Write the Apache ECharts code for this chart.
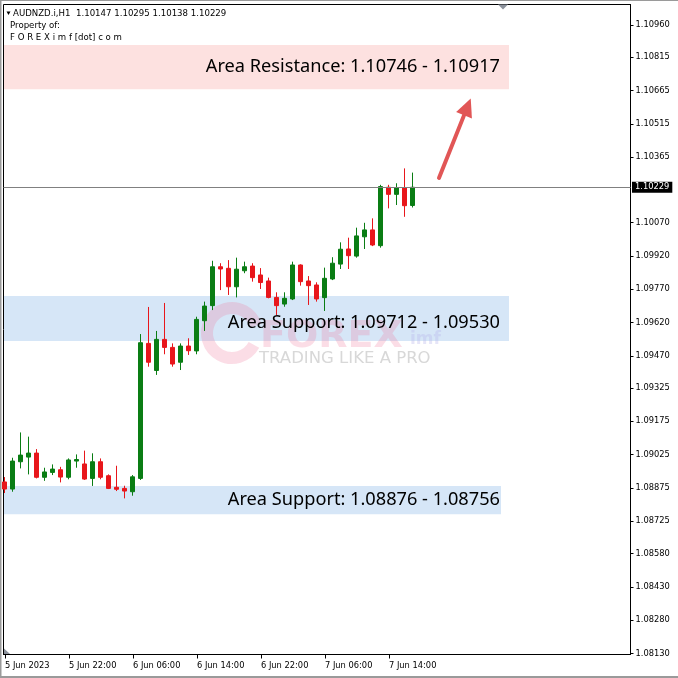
<!DOCTYPE html>
<html><head><meta charset="utf-8">
<script src="https://cdn.jsdelivr.net/npm/echarts@6/dist/echarts.min.js"></script>
<style>html,body{margin:0;padding:0;background:#fff}#c{width:678px;height:678px}</style>
</head><body><div id="c"></div>
<script>
// ---- data (AUDNZD.i, H1, bars from 5 Jun 2023 14:00) ----
const symbolName = 'AUDNZD.i,H1';
const opens = [1.08902,1.08870,1.08993,1.09014,1.09032,1.08923,1.08945,1.08957,1.08923,1.08996,
1.08983,1.08918,1.08993,1.08930,1.08878,1.08873,1.08858,1.08918,1.09526,1.09404,
1.09544,1.09508,1.09441,1.09514,1.09492,1.09628,1.09696,1.09871,1.09864,1.09781,
1.09853,1.09874,1.09834,1.09807,1.09733,1.09703,1.09726,1.09879,1.09807,1.09789,
1.09732,1.09816,1.09883,1.09951,1.09919,1.10006,1.10037,1.09966,1.10229,1.10197,
1.10227,1.10147];
const closes = [1.08870,1.08996,1.09023,1.09032,1.08923,1.08947,1.08960,1.08924,1.09001,1.09003,
1.08915,1.08993,1.08923,1.08873,1.08869,1.08861,1.08925,1.09529,1.09441,1.09544,
1.09508,1.09433,1.09514,1.09493,1.09634,1.09694,1.09871,1.09861,1.09781,1.09860,
1.09871,1.09822,1.09800,1.09733,1.09696,1.09729,1.09879,1.09804,1.09786,1.09726,
1.09819,1.09887,1.09950,1.09921,1.10010,1.10037,1.09969,1.10232,1.10197,1.10227,
1.10146,1.10229];
const highs = [1.08924,1.09011,1.09125,1.09106,1.09050,1.08966,1.08981,1.08970,1.09008,1.09026,
1.09043,1.09031,1.09008,1.08936,1.08975,1.08885,1.08933,1.09568,1.09690,1.09582,
1.09708,1.09526,1.09526,1.09549,1.09646,1.09714,1.09898,1.09887,1.09901,1.09912,
1.09894,1.09887,1.09865,1.09822,1.09756,1.09756,1.09894,1.09882,1.09829,1.09801,
1.09867,1.09914,1.09981,1.10002,1.10047,1.10069,1.10089,1.10240,1.10240,1.10247,
1.10314,1.10295];
const lows = [1.08852,1.08858,1.08963,1.08936,1.08918,1.08907,1.08933,1.08900,1.08914,1.08966,
1.08911,1.08884,1.08914,1.08870,1.08861,1.08828,1.08840,1.08911,1.09421,1.09384,
1.09477,1.09421,1.09406,1.09474,1.09477,1.09582,1.09676,1.09766,1.09744,1.09733,
1.09842,1.09804,1.09771,1.09729,1.09654,1.09691,1.09721,1.09786,1.09699,1.09714,
1.09672,1.09811,1.09861,1.09861,1.09912,1.09951,1.09964,1.09957,1.10134,1.10149,
1.10096,1.10138];

const xTickBars = [0, 8, 16, 24, 32, 40, 48];
const xTickLabels = ['5 Jun 2023','5 Jun 22:00','6 Jun 06:00','6 Jun 14:00','6 Jun 22:00','7 Jun 06:00','7 Jun 14:00'];
const yTickValues = [1.08130,1.08280,1.08430,1.08580,1.08725,1.08875,1.09025,1.09175,1.09325,1.09470,
1.09620,1.09770,1.09920,1.10070,1.10365,1.10515,1.10665,1.10815,1.10960];

const zoneNames = ['Area Resistance: 1.10746 - 1.10917','Area Support: 1.09712 - 1.09530','Area Support: 1.08876 - 1.08756'];
const zoneTop = [1.10870, 1.09739, 1.08884];
const zoneBottom = [1.10670, 1.09537, 1.08757];
const zoneEndBar = [63, 63, 62];
const zoneColors = ['#fde1e0', '#d6e6f7', '#d6e6f7'];

const lastPrice = 1.10229;
const arrowFrom = [54.25, 1.10271];
const arrowTo = [57.8, 1.10591];

// ---- styling ----
const GREEN = '#0a7d14', RED = '#e8161b';
const xMin = -0.1875, xMax = 78.19, yMin = 1.08125, yMax = 1.11052;
const zoneStartX = -0.125;
const axisFont = {fontFamily: 'DejaVu Sans', fontSize: 8.3, color: '#000'};

const candleData = opens.map((o, i) => [i, o, closes[i], lows[i], highs[i]]);
const n = opens.length - 1;

const chart = echarts.init(document.getElementById('c'), null, {renderer: 'canvas'});
const option = {
  animation: false,
  backgroundColor: '#fff',
  grid: {left: 3.5, right: 47.5, top: 4.5, bottom: 23.5, show: true, borderColor: '#000', borderWidth: 1, backgroundColor: 'transparent'},
  xAxis: {
    type: 'value', min: xMin, max: xMax,
    axisLine: {show: true, onZero: false, lineStyle: {color: '#000', width: 1}},
    axisTick: {show: true, length: 4, customValues: xTickBars, lineStyle: {color: '#000'}},
    axisLabel: Object.assign({customValues: xTickBars, align: 'left', margin: 7,
      formatter: v => xTickLabels[xTickBars.indexOf(Math.round(v))]}, axisFont),
    splitLine: {show: false}
  },
  yAxis: {
    type: 'value', position: 'right', min: yMin, max: yMax, scale: true,
    axisLine: {show: true, onZero: false, lineStyle: {color: '#000', width: 1}},
    axisTick: {show: true, length: 3, customValues: yTickValues, lineStyle: {color: '#000'}},
    axisLabel: Object.assign({customValues: yTickValues, margin: 5, formatter: v => v.toFixed(5)}, axisFont),
    splitLine: {show: false}
  },
  series: [
    {
      type: 'line', data: [], silent: true, z: 1,
      markArea: {
        silent: true, z: 0, label: {show: false},
        data: zoneNames.map((nm, i) => [
          {xAxis: zoneStartX, yAxis: zoneTop[i], itemStyle: {color: zoneColors[i], opacity: 1}},
          {xAxis: zoneEndBar[i], yAxis: zoneBottom[i]}
        ])
      }
    },
    {
      type: 'candlestick', z: 2, silent: true,
      data: candleData, barWidth: 4.5,
      itemStyle: {color: GREEN, color0: RED, borderColor: GREEN, borderColor0: RED, borderWidth: 1}
    },
    {
      type: 'line', data: [], silent: true, z: 6,
      markArea: {
        silent: true, z: 6,
        itemStyle: {color: 'rgba(0,0,0,0)'},
        label: {show: true, position: 'insideRight', color: '#000', fontFamily: 'Noto Sans', fontSize: 18.2},
        data: zoneNames.map((nm, i) => [
          {name: nm, xAxis: zoneStartX, yAxis: zoneTop[i],
           label: {distance: i === 2 ? 1 : 9, offset: [0, i === 1 ? 4 : 0]}},
          {xAxis: zoneEndBar[i], yAxis: zoneBottom[i]}
        ])
      },
      markLine: {
        silent: true, z: 5, symbol: ['none', 'none'],
        data: [
          [
            {coord: [xMin, lastPrice], symbol: 'none', lineStyle: {color: '#808080', width: 1, type: 'solid'}, label: {show: false}},
            {coord: [xMax, lastPrice], symbol: 'none'}
          ],
          [
            {coord: arrowFrom, symbol: 'none', lineStyle: {color: '#e15656', width: 4, type: 'solid', cap: 'round'}, label: {show: false}},
            {coord: arrowTo, symbol: 'triangle', symbolSize: [17, 18]}
          ]
        ]
      },
      markPoint: {
        silent: true, z: 7, symbol: 'rect', symbolSize: 0,
        data: [{
          coord: [xMax, lastPrice], value: lastPrice,
          label: {show: true, position: 'right', distance: 1.5, formatter: lastPrice.toFixed(5),
            backgroundColor: '#000', color: '#fff', padding: [2, 3, 1, 3],
            fontFamily: 'DejaVu Sans', fontSize: 8.3}
        }]
      }
    }
  ],
  graphic: {elements: [
    // watermark
    {type: 'arc', z: 1, silent: true, shape: {cx: 232, cy: 333, r: 25, startAngle: 0.5, endAngle: Math.PI * 2 - 0.3},
     style: {stroke: '#f07d9e', lineWidth: 12, fill: null, opacity: 0.26}},
    {type: 'text', z: 1, silent: true, x: 260, y: 337,
     style: {text: 'FOREX', font: 'bold 38px "DejaVu Sans"', fill: '#f07d9e', opacity: 0.26, verticalAlign: 'middle'}},
    {type: 'text', z: 1, silent: true, x: 410, y: 340,
     style: {text: 'imf', font: 'bold 17px "DejaVu Sans"', fill: '#b8b4ea', opacity: 0.35, verticalAlign: 'middle'}},
    {type: 'text', z: 1, silent: true, x: 259, y: 358.5,
     style: {text: 'TRADING LIKE A PRO', font: '16.5px "DejaVu Sans"', fill: '#d8d8d8', verticalAlign: 'middle'}},
    // header
    {type: 'polygon', z: 10, silent: true, shape: {points: [[6.5, 11.5], [10.5, 11.5], [8.5, 15]]}, style: {fill: '#000'}},
    {type: 'text', z: 10, silent: true, x: 13, y: 13.5,
     style: {text: symbolName + '  ' + [opens[n], highs[n], lows[n], closes[n]].map(v => v.toFixed(5)).join(' '),
       font: '8.6px "DejaVu Sans"', fill: '#000', verticalAlign: 'middle'}},
    {type: 'text', z: 10, silent: true, x: 10, y: 25.5,
     style: {text: 'Property of:', font: '8.6px "DejaVu Sans"', fill: '#000', verticalAlign: 'middle'}},
    {type: 'text', z: 10, silent: true, x: 10, y: 37.5,
     style: {text: 'F O R E X i m f [dot] c o m', font: '8.6px "DejaVu Sans"', fill: '#000', verticalAlign: 'middle'}},
    // chart-shift markers
    {type: 'polygon', z: 10, silent: true, shape: {points: [[498, 4.5], [508, 4.5], [503, 9.5]]}, style: {fill: '#8c929c'}},
    {type: 'polygon', z: 10, silent: true, shape: {points: [[4, 648.5], [4, 654], [10, 654]]}, style: {fill: '#8c929c'}},
    // outer frame
    {type: 'rect', z: 10, silent: true, shape: {x: 0, y: 0, width: 1.5, height: 678}, style: {fill: '#9a9a9a'}},
    {type: 'rect', z: 10, silent: true, shape: {x: 0, y: 0, width: 678, height: 1}, style: {fill: '#9a9a9a'}},
    {type: 'rect', z: 10, silent: true, shape: {x: 0, y: 676, width: 678, height: 2}, style: {fill: '#9a9a9a'}}
  ]}
};
chart.setOption(option);
</script>
</body></html>
